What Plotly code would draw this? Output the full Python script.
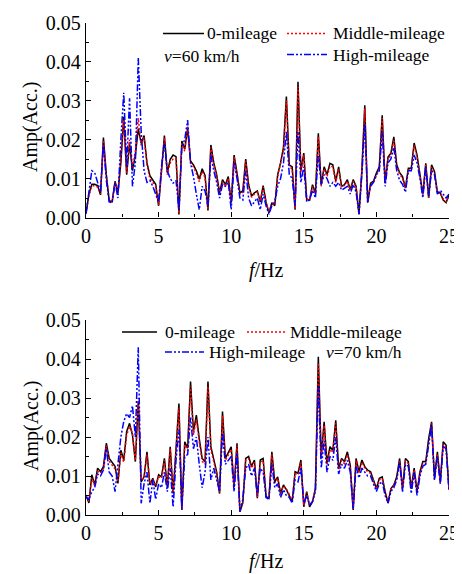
import plotly.graph_objects as go

freq = [round(i * 0.2, 1) for i in range(126)]

# v = 60 km/h
zero_60 = [
    0.0010, 0.0060, 0.0085, 0.0085, 0.0082, 0.0058, 0.0205, 0.0110, 0.0042, 0.0040,
    0.0093, 0.0063, 0.0140, 0.0258, 0.0110, 0.0190, 0.0120, 0.0160, 0.0228, 0.0190,
    0.0210, 0.0140, 0.0107, 0.0095, 0.0085, 0.0030, 0.0120, 0.0210, 0.0115, 0.0149,
    0.0160, 0.0156, 0.0008, 0.0196, 0.0175, 0.0228, 0.0145, 0.0135, 0.0120, 0.0098,
    0.0125, 0.0108, 0.0018, 0.0186, 0.0140, 0.0110, 0.0063, 0.0097, 0.0084, 0.0105,
    0.0038, 0.0160, 0.0114, 0.0063, 0.0068, 0.0150, 0.0084, 0.0055, 0.0063, 0.0068,
    0.0040, 0.0082, 0.0040, 0.0012, 0.0038, 0.0030, 0.0110, 0.0140, 0.0180, 0.0310,
    0.0135, 0.0130, 0.0020, 0.0348, 0.0120, 0.0165, 0.0046, 0.0045, 0.0084, 0.0063,
    0.0216, 0.0084, 0.0130, 0.0110, 0.0139, 0.0135, 0.0093, 0.0130, 0.0080, 0.0084,
    0.0097, 0.0071, 0.0097, 0.0080, 0.0008, 0.0122, 0.0288, 0.0038, 0.0088, 0.0093,
    0.0114, 0.0130, 0.0262, 0.0090, 0.0155, 0.0165, 0.0207, 0.0135, 0.0115, 0.0105,
    0.0076, 0.0126, 0.0126, 0.0191, 0.0160, 0.0110, 0.0060, 0.0139, 0.0050, 0.0135,
    0.0118, 0.0065, 0.0063, 0.0045, 0.0038, 0.0058,
]
middle_60 = [
    0.0012, 0.0055, 0.0080, 0.0082, 0.0078, 0.0060, 0.0198, 0.0105, 0.0045, 0.0042,
    0.0090, 0.0065, 0.0150, 0.0250, 0.0115, 0.0200, 0.0125, 0.0170, 0.0255, 0.0185,
    0.0205, 0.0135, 0.0100, 0.0090, 0.0080, 0.0032, 0.0115, 0.0205, 0.0110, 0.0140,
    0.0150, 0.0150, 0.0010, 0.0190, 0.0170, 0.0235, 0.0140, 0.0130, 0.0112, 0.0092,
    0.0118, 0.0102, 0.0020, 0.0180, 0.0135, 0.0105, 0.0060, 0.0092, 0.0080, 0.0100,
    0.0040, 0.0155, 0.0110, 0.0060, 0.0065, 0.0145, 0.0080, 0.0052, 0.0060, 0.0065,
    0.0042, 0.0078, 0.0038, 0.0014, 0.0036, 0.0032, 0.0105, 0.0135, 0.0172, 0.0300,
    0.0130, 0.0125, 0.0022, 0.0335, 0.0115, 0.0160, 0.0048, 0.0044, 0.0080, 0.0060,
    0.0208, 0.0080, 0.0125, 0.0105, 0.0132, 0.0130, 0.0090, 0.0125, 0.0078, 0.0082,
    0.0093, 0.0070, 0.0093, 0.0078, 0.0010, 0.0118, 0.0280, 0.0040, 0.0085, 0.0090,
    0.0110, 0.0125, 0.0255, 0.0088, 0.0150, 0.0160, 0.0200, 0.0130, 0.0112, 0.0100,
    0.0075, 0.0122, 0.0122, 0.0185, 0.0155, 0.0105, 0.0058, 0.0135, 0.0050, 0.0130,
    0.0114, 0.0063, 0.0062, 0.0048, 0.0040, 0.0055,
]
high_60 = [
    0.0010, 0.0070, 0.0120, 0.0115, 0.0090, 0.0065, 0.0190, 0.0095, 0.0040, 0.0038,
    0.0090, 0.0050, 0.0200, 0.0320, 0.0130, 0.0306, 0.0080, 0.0140, 0.0410, 0.0220,
    0.0120, 0.0090, 0.0095, 0.0080, 0.0060, 0.0040, 0.0130, 0.0190, 0.0120, 0.0100,
    0.0088, 0.0095, 0.0020, 0.0180, 0.0200, 0.0250, 0.0140, 0.0105, 0.0060, 0.0020,
    0.0080, 0.0068, 0.0030, 0.0160, 0.0120, 0.0090, 0.0050, 0.0085, 0.0080, 0.0090,
    0.0020, 0.0140, 0.0100, 0.0050, 0.0045, 0.0120, 0.0050, 0.0030, 0.0040, 0.0050,
    0.0020, 0.0060, 0.0030, 0.0008, 0.0030, 0.0040, 0.0080, 0.0100, 0.0140, 0.0220,
    0.0110, 0.0100, 0.0030, 0.0220, 0.0090, 0.0130, 0.0040, 0.0045, 0.0070, 0.0050,
    0.0160, 0.0085, 0.0110, 0.0100, 0.0080, 0.0090, 0.0080, 0.0090, 0.0070, 0.0075,
    0.0080, 0.0060, 0.0085, 0.0065, 0.0010, 0.0110, 0.0240, 0.0040, 0.0080, 0.0090,
    0.0110, 0.0120, 0.0220, 0.0080, 0.0140, 0.0150, 0.0180, 0.0120, 0.0095, 0.0085,
    0.0065, 0.0120, 0.0120, 0.0160, 0.0140, 0.0100, 0.0050, 0.0130, 0.0055, 0.0120,
    0.0110, 0.0060, 0.0070, 0.0060, 0.0050, 0.0060,
]

# v = 70 km/h
zero_70 = [
    0.0051, 0.0031, 0.0103, 0.0077, 0.0120, 0.0111, 0.0124, 0.0184, 0.0145, 0.0135,
    0.0125, 0.0081, 0.0166, 0.0141, 0.0214, 0.0235, 0.0205, 0.0137, 0.0291, 0.0085,
    0.0098, 0.0162, 0.0077, 0.0094, 0.0072, 0.0103, 0.0098, 0.0145, 0.0072, 0.0175,
    0.0055, 0.0170, 0.0286, 0.0013, 0.0188, 0.0171, 0.0342, 0.0214, 0.0256, 0.0196,
    0.0145, 0.0137, 0.0342, 0.0175, 0.0145, 0.0110, 0.0055, 0.0265, 0.0145, 0.0162,
    0.0175, 0.0072, 0.0184, 0.0008, 0.0031, 0.0145, 0.0150, 0.0125, 0.0141, 0.0043,
    0.0141, 0.0145, 0.0047, 0.0043, 0.0162, 0.0085, 0.0098, 0.0055, 0.0077, 0.0065,
    0.0051, 0.0034, 0.0111, 0.0107, 0.0141, 0.0021, 0.0060, 0.0021, 0.0034, 0.0068,
    0.0406, 0.0150, 0.0239, 0.0133, 0.0175, 0.0166, 0.0243, 0.0120, 0.0145, 0.0137,
    0.0162, 0.0128, 0.0013, 0.0145, 0.0111, 0.0141, 0.0124, 0.0115, 0.0111, 0.0090,
    0.0068, 0.0094, 0.0098, 0.0060, 0.0031, 0.0068, 0.0077, 0.0098, 0.0145, 0.0068,
    0.0145, 0.0137, 0.0068, 0.0120, 0.0060, 0.0111, 0.0137, 0.0137, 0.0196, 0.0239,
    0.0094, 0.0162, 0.0085, 0.0188, 0.0179, 0.0065,
]
middle_70 = [
    0.0048, 0.0035, 0.0095, 0.0075, 0.0112, 0.0108, 0.0118, 0.0178, 0.0138, 0.0128,
    0.0118, 0.0085, 0.0160, 0.0135, 0.0205, 0.0228, 0.0210, 0.0140, 0.0300, 0.0090,
    0.0095, 0.0155, 0.0080, 0.0090, 0.0075, 0.0098, 0.0095, 0.0140, 0.0075, 0.0170,
    0.0058, 0.0165, 0.0275, 0.0015, 0.0180, 0.0165, 0.0330, 0.0205, 0.0245, 0.0188,
    0.0138, 0.0130, 0.0330, 0.0168, 0.0138, 0.0105, 0.0058, 0.0255, 0.0140, 0.0155,
    0.0168, 0.0075, 0.0178, 0.0010, 0.0035, 0.0140, 0.0145, 0.0120, 0.0135, 0.0046,
    0.0135, 0.0140, 0.0050, 0.0045, 0.0155, 0.0082, 0.0094, 0.0058, 0.0074, 0.0066,
    0.0053, 0.0036, 0.0106, 0.0103, 0.0135, 0.0024, 0.0058, 0.0024, 0.0036, 0.0066,
    0.0390, 0.0145, 0.0230, 0.0128, 0.0168, 0.0160, 0.0235, 0.0116, 0.0140, 0.0132,
    0.0155, 0.0123, 0.0016, 0.0140, 0.0107, 0.0136, 0.0120, 0.0111, 0.0107, 0.0087,
    0.0066, 0.0090, 0.0094, 0.0058, 0.0034, 0.0066, 0.0075, 0.0094, 0.0140, 0.0066,
    0.0140, 0.0132, 0.0066, 0.0116, 0.0060, 0.0107, 0.0132, 0.0133, 0.0190, 0.0235,
    0.0092, 0.0156, 0.0083, 0.0182, 0.0173, 0.0064,
]
high_70 = [
    0.0045, 0.0040, 0.0060, 0.0070, 0.0105, 0.0100, 0.0115, 0.0170, 0.0110, 0.0100,
    0.0060, 0.0130, 0.0200, 0.0240, 0.0260, 0.0250, 0.0280, 0.0200, 0.0430, 0.0030,
    0.0080, 0.0110, 0.0030, 0.0090, 0.0040, 0.0080, 0.0070, 0.0110, 0.0060, 0.0120,
    0.0020, 0.0140, 0.0220, 0.0015, 0.0150, 0.0155, 0.0250, 0.0170, 0.0200, 0.0130,
    0.0070, 0.0110, 0.0200, 0.0090, 0.0120, 0.0090, 0.0060, 0.0210, 0.0130, 0.0140,
    0.0150, 0.0060, 0.0160, 0.0010, 0.0040, 0.0120, 0.0130, 0.0100, 0.0120, 0.0050,
    0.0120, 0.0110, 0.0045, 0.0040, 0.0130, 0.0070, 0.0080, 0.0045, 0.0065, 0.0050,
    0.0045, 0.0030, 0.0090, 0.0085, 0.0120, 0.0030, 0.0050, 0.0025, 0.0035, 0.0060,
    0.0330, 0.0120, 0.0190, 0.0110, 0.0150, 0.0140, 0.0200, 0.0105, 0.0130, 0.0120,
    0.0140, 0.0110, 0.0015, 0.0125, 0.0095, 0.0120, 0.0110, 0.0100, 0.0100, 0.0080,
    0.0060, 0.0080, 0.0085, 0.0050, 0.0030, 0.0060, 0.0070, 0.0090, 0.0135, 0.0060,
    0.0130, 0.0125, 0.0055, 0.0110, 0.0050, 0.0100, 0.0125, 0.0130, 0.0185, 0.0230,
    0.0090, 0.0150, 0.0080, 0.0175, 0.0170, 0.0065,
]

series_names = ["0-mileage", "Middle-mileage", "High-mileage"]
colors = ["#000000", "#FF0000", "#0000FF"]
dashes = ["solid", "2px,2px", "7px,2px,2px,2px,2px,2px"]
speed_labels = ["<i>v</i>=60 km/h", "<i>v</i>=70 km/h"]

# page body has an 8px margin; size the figure to fit the 462x574 window
OFF = 8
W, H = 462 - OFF, 574 - OFF
FONT = "Liberation Serif"

def px(x):
    return (x - OFF) / W

def py(y):
    return 1 - (y - OFF) / H

fig = go.Figure()
panels = [(zero_60, middle_60, high_60), (zero_70, middle_70, high_70)]
for p, data in enumerate(panels):
    xa = "x" if p == 0 else "x2"
    ya = "y" if p == 0 else "y2"
    for k in range(3):
        fig.add_trace(go.Scatter(
            x=freq, y=data[k], mode="lines", name=series_names[k],
            line=dict(color=colors[k], width=1.5, dash=dashes[k]),
            xaxis=xa, yaxis=ya, showlegend=False, cliponaxis=True,
        ))

xdom = [px(86), px(449)]
ydoms = [[py(217.5), py(22.5)], [py(515), py(320)]]

def xaxis(anchor):
    return dict(range=[0, 25], domain=xdom, anchor=anchor, automargin=False, showline=True, linecolor="black",
                linewidth=1.3, ticks="inside", ticklen=5, tickwidth=1.3, tickcolor="black",
                tick0=0, dtick=5, showgrid=False, zeroline=False,
                minor=dict(ticks="inside", ticklen=3, tickwidth=1, tickcolor="black", dtick=2.5, showgrid=False),
                tickfont=dict(family=FONT, size=20, color="black"))

def yaxis(anchor, dom):
    return dict(range=[0, 0.05], domain=dom, anchor=anchor, automargin=False, showline=True, linecolor="black",
                linewidth=1.3, ticks="inside", ticklen=5, tickwidth=1.3, tickcolor="black",
                tick0=0, dtick=0.01, tickformat=".2f", showgrid=False, zeroline=False,
                minor=dict(ticks="inside", ticklen=3, tickwidth=1, tickcolor="black", dtick=0.005, showgrid=False),
                tickfont=dict(family=FONT, size=20, color="black"))

shapes = []
annotations = []

def legend_item(x0, x1, y, k, tx):
    shapes.append(dict(type="line", xref="paper", yref="paper", x0=px(x0), x1=px(x1), y0=py(y), y1=py(y),
                       line=dict(color=colors[k], width=1.5, dash=dashes[k])))
    annotations.append(dict(xref="paper", yref="paper", x=px(tx), y=py(y), text=series_names[k],
                            showarrow=False, xanchor="left", yanchor="middle",
                            font=dict(family=FONT, size=17.5, color="black")))

def text_at(x, y, t, size=17.5, angle=0, xanchor="left"):
    annotations.append(dict(xref="paper", yref="paper", x=px(x), y=py(y), text=t, showarrow=False,
                            xanchor=xanchor, yanchor="middle", textangle=angle,
                            font=dict(family=FONT, size=size, color="black")))

# top legend
legend_item(163, 204, 33.5, 0, 205)
legend_item(287, 327, 33.5, 1, 331)
legend_item(287, 327, 54.5, 2, 331)
text_at(162, 56.5, speed_labels[0])
# bottom legend
legend_item(122, 157, 332, 0, 163)
legend_item(247, 285, 332, 1, 288)
legend_item(165, 204, 352, 2, 207)
text_at(324, 352, speed_labels[1])

# axis titles
text_at(31, 127, "Amp(Acc.)", size=20, angle=-90, xanchor="center")
text_at(31, 426, "Amp(Acc.)", size=20, angle=-90, xanchor="center")
text_at(266, 270, "<i>f</i>/Hz", size=20, xanchor="center")
text_at(266, 561, "<i>f</i>/Hz", size=20, xanchor="center")

fig.update_layout(
    width=W, height=H, margin=dict(l=0, r=0, t=0, b=0),
    paper_bgcolor="white", plot_bgcolor="white",
    xaxis=xaxis("y"), yaxis=yaxis("x", ydoms[0]),
    xaxis2=xaxis("y2"), yaxis2=yaxis("x2", ydoms[1]),
    shapes=shapes, annotations=annotations, showlegend=False,
)
fig.write_html("out.html")
